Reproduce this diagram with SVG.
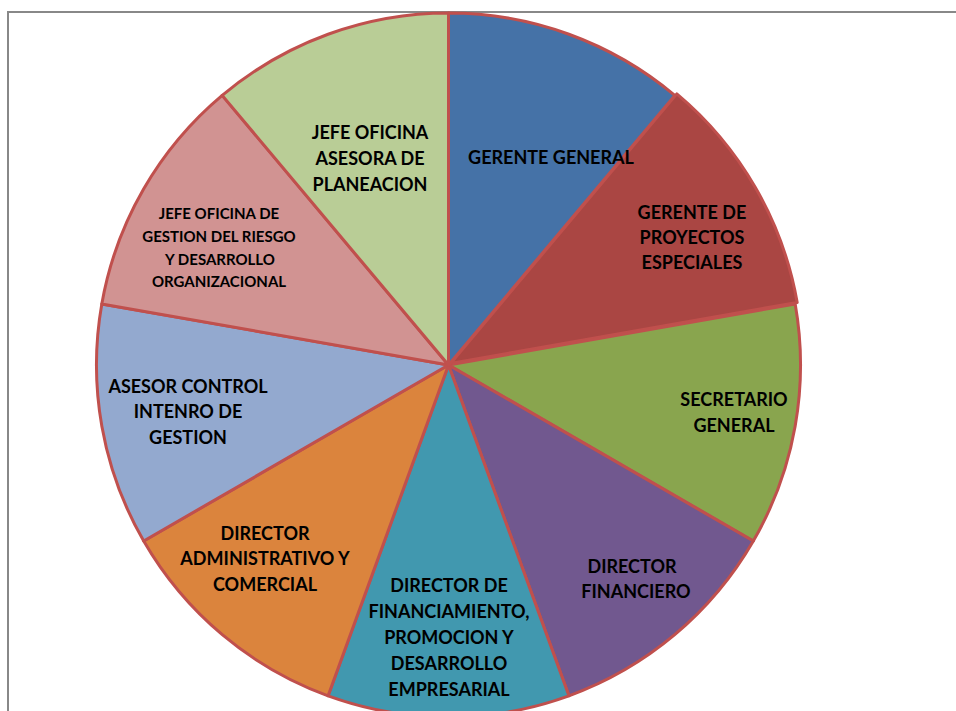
<svg xmlns="http://www.w3.org/2000/svg" width="956" height="711" viewBox="0 0 956 711">
<style>
.s{stroke:#C0504D;stroke-width:3;stroke-linejoin:round}
.t{font-family:Lato,"Liberation Sans",sans-serif;font-weight:700;font-size:18px;fill:#000;text-anchor:middle;dominant-baseline:central}
.sm{font-size:15px}
</style>
<rect x="0" y="0" width="956" height="711" fill="#fff"/>
<path d="M8,711 V12 H956" fill="none" stroke="#888" stroke-width="2"/>
<g id="gerente-proyectos">
<path class="s" fill="#AA4643" transform="translate(2,-1.5)" d="M448.5,365 L674.8,95.4 A352,352 0 0 1 795.2,303.9 Z"/>
<text class="t" x="692" y="212">GERENTE DE</text>
<text class="t" x="692" y="237">PROYECTOS</text>
<text class="t" x="692" y="262">ESPECIALES</text>
</g>
<g id="secretario-general">
<path class="s" fill="#89A54E" d="M448.5,365 L795.2,303.9 A352,352 0 0 1 753.3,541 Z"/>
<text class="t" x="734" y="399">SECRETARIO</text>
<text class="t" x="734" y="425">GENERAL</text>
</g>
<g id="director-financiero">
<path class="s" fill="#71588F" d="M448.5,365 L753.3,541 A352,352 0 0 1 568.9,695.8 Z"/>
<text class="t" x="632" y="566">DIRECTOR</text>
<text class="t" x="636" y="591">FINANCIERO</text>
</g>
<g id="director-financiamiento">
<path class="s" fill="#4198AF" d="M448.5,365 L568.9,695.8 A352,352 0 0 1 328.1,695.8 Z"/>
<text class="t" x="449" y="585">DIRECTOR DE</text>
<text class="t" x="449" y="611">FINANCIAMIENTO,</text>
<text class="t" x="449" y="637">PROMOCION Y</text>
<text class="t" x="449" y="663">DESARROLLO</text>
<text class="t" x="449" y="689">EMPRESARIAL</text>
</g>
<g id="director-administrativo">
<path class="s" fill="#DB843D" d="M448.5,365 L328.1,695.8 A352,352 0 0 1 143.7,541 Z"/>
<text class="t" x="265" y="533">DIRECTOR</text>
<text class="t" x="265" y="558">ADMINISTRATIVO Y</text>
<text class="t" x="265" y="584">COMERCIAL</text>
</g>
<g id="asesor-control">
<path class="s" fill="#93A9CF" d="M448.5,365 L143.7,541 A352,352 0 0 1 101.8,303.9 Z"/>
<text class="t" x="188" y="386">ASESOR CONTROL</text>
<text class="t" x="188" y="411">INTENRO DE</text>
<text class="t" x="188" y="437">GESTION</text>
</g>
<g id="jefe-gestion-riesgo">
<path class="s" fill="#D19392" d="M448.5,365 L101.8,303.9 A352,352 0 0 1 222.2,95.4 Z"/>
<text class="t sm" x="219" y="213">JEFE OFICINA DE</text>
<text class="t sm" x="219" y="236">GESTION DEL RIESGO</text>
<text class="t sm" x="220" y="259">Y DESARROLLO</text>
<text class="t sm" x="219" y="281">ORGANIZACIONAL</text>
</g>
<g id="jefe-planeacion">
<path class="s" fill="#B9CD96" d="M448.5,365 L222.2,95.4 A352,352 0 0 1 448.5,13 Z"/>
<text class="t" x="370" y="132">JEFE OFICINA</text>
<text class="t" x="370" y="158">ASESORA DE</text>
<text class="t" x="370" y="184">PLANEACION</text>
</g>
<g id="gerente-general">
<path class="s" fill="#4572A7" d="M448.5,365 L448.5,13 A352,352 0 0 1 674.8,95.4 Z"/>
<text class="t" x="551" y="157">GERENTE GENERAL</text>
</g>
<g id="connectors"></g>
</svg>
